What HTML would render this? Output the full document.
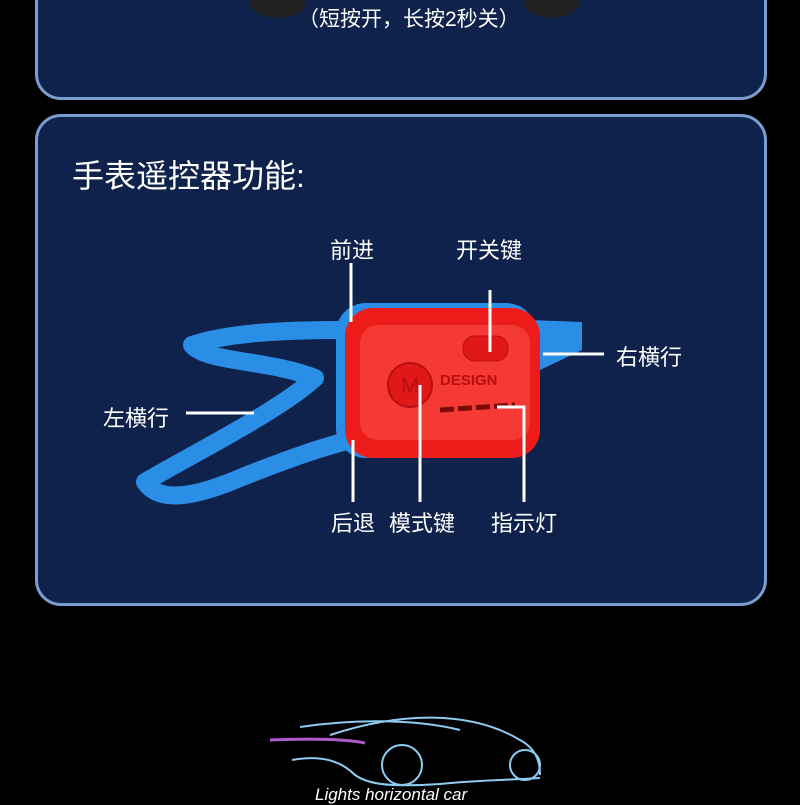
<!DOCTYPE html>
<html><head><meta charset="utf-8"><style>
body{margin:0;width:800px;height:800px;background:#000;position:relative;overflow:hidden;font-family:"Liberation Sans","Noto Sans CJK SC",sans-serif;color:#fff}
.p{position:absolute;left:35px;width:726px;background:#0e224b;border:3px solid #7b9dd0;border-radius:26px}
.t{position:absolute;white-space:nowrap;color:#fff}
</style></head><body>
<div class="p" style="top:-40px;height:134px"></div>
<div class="p" style="top:114px;height:486px"></div>
<svg style="position:absolute;left:0;top:0" width="800" height="800">
<ellipse cx="278" cy="2" rx="28" ry="16" fill="#222"/>
<ellipse cx="552" cy="2" rx="28" ry="16" fill="#222"/>
<!-- strap -->
<path d="M345 330 C290 330 230 332 192 345 C205 362 270 360 315 378 C280 410 200 450 145 482 C160 505 200 495 240 478 C290 458 320 448 350 440" fill="none" stroke="#2b8ee6" stroke-width="18" stroke-linejoin="round" stroke-linecap="round"/>
<path d="M530 320 L582 322 L582 350 L540 370 Z" fill="#2b8ee6"/>
<rect x="336" y="303" width="200" height="155" rx="30" fill="#2b8ee6"/>
<rect x="345" y="308" width="195" height="150" rx="28" fill="#ee1b1b"/>
<rect x="360" y="325" width="170" height="115" rx="18" fill="#f53a35"/>
<rect x="463" y="336" width="45" height="25" rx="12" fill="#e01818" stroke="#b80f0f"/>
<circle cx="410" cy="385" r="22" fill="#e01818" stroke="#b80f0f" stroke-width="2"/>
<text x="410" y="393" font-size="22" fill="#b80f0f" text-anchor="middle" font-family="Liberation Sans">M</text>
<text x="440" y="385" font-size="15" font-weight="bold" fill="#b80f0f" font-family="Liberation Sans">DESIGN</text>
<path d="M440 410 L515 405" stroke="#7a0a0a" stroke-width="5" stroke-dasharray="14 4"/>
<g stroke="#fff" stroke-width="3" fill="none">
<path d="M351 263 V322"/>
<path d="M490 290 V352"/>
<path d="M543 354 H604"/>
<path d="M186 413 H254"/>
<path d="M353 440 V502"/>
<path d="M420 385 V502"/>
<path d="M497 407 H524 V502"/>
</g>
<!-- car -->
<g fill="none" stroke="#8ecbf0" stroke-width="2">
<path d="M330 735 C400 712 470 710 520 740 C535 748 540 760 540 775"/>
<path d="M292 760 C320 755 340 760 355 775 C365 782 380 788 440 784 C480 780 510 780 540 778"/>
<circle cx="402" cy="765" r="20"/><circle cx="525" cy="765" r="15"/>
<path d="M300 727 C360 718 420 720 460 730"/>
</g>
<path d="M270 740 C320 738 350 740 365 743" stroke="#b05ad0" stroke-width="3" fill="none"/>
</svg>
<div class="t" style="left:298px;top:3px;font-size:21px">（短按开，长按2秒关）</div>
<div class="t" style="left:72px;top:151px;font-size:32px">手表遥控器功能:</div>
<div class="t" style="left:330px;top:233px;font-size:22px">前进</div>
<div class="t" style="left:456px;top:233px;font-size:22px">开关键</div>
<div class="t" style="left:616px;top:340px;font-size:22px">右横行</div>
<div class="t" style="left:103px;top:401px;font-size:22px">左横行</div>
<div class="t" style="left:331px;top:506px;font-size:22px">后退</div>
<div class="t" style="left:389px;top:506px;font-size:22px">模式键</div>
<div class="t" style="left:491px;top:506px;font-size:22px">指示灯</div>
<div class="t" style="left:315px;top:785px;font-size:17px;font-style:italic">Lights horizontal car</div>
</body></html>
